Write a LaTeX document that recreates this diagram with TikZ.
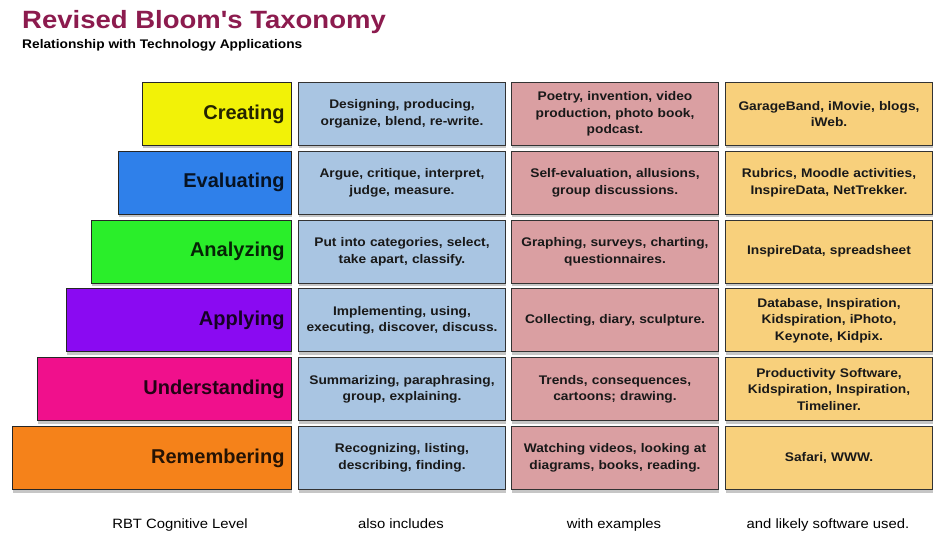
\documentclass[tikz,border=0pt]{standalone}
\usepackage{fontspec}
\setmainfont{Liberation Sans}[FakeStretch=1.1]
\newfontfamily\lvlfont{Liberation Sans}
\newfontfamily\titlefont{Liberation Sans}[FakeStretch=1.1,Ligatures=TeXOff]
\usetikzlibrary{shadows}

\definecolor{titlered}{HTML}{8C1B4E}
\definecolor{lvlyellow}{HTML}{F2F207}
\definecolor{lvlblue}{HTML}{2F80EA}
\definecolor{lvlgreen}{HTML}{2AEE2A}
\definecolor{lvlpurple}{HTML}{8A0AF2}
\definecolor{lvlpink}{HTML}{F0108C}
\definecolor{lvlorange}{HTML}{F5821A}
\definecolor{incblue}{HTML}{A9C5E2}
\definecolor{exrose}{HTML}{DA9FA2}
\definecolor{swyellow}{HTML}{F8D07C}

\begin{document}
\begin{tikzpicture}[x=1pt,y=-1pt,
  lvl/.style={rectangle,draw=black!85,line width=1pt,minimum height=63pt,inner xsep=7pt,align=right,anchor=north east,
    font=\lvlfont\bfseries\fontsize{20}{22}\selectfont,drop shadow={opacity=0.45,shadow xshift=0.5pt,shadow yshift=-3pt}},
  cell/.style={rectangle,draw=black!80,line width=1pt,minimum width=207pt,minimum height=63pt,text width=195pt,inner xsep=6pt,
    align=center,anchor=north west,font=\bfseries\fontsize{12.5}{16.5}\selectfont,text=black!90,
    drop shadow={opacity=0.45,shadow xshift=0.5pt,shadow yshift=-3pt}},
  foot/.style={font=\fontsize{13.5}{15}\selectfont,anchor=base}
]
  \useasboundingbox (0,0) rectangle (944,534);
  \node[anchor=base west,inner sep=0pt,text=titlered,font=\titlefont\bfseries\fontsize{25}{28}\selectfont] (title) at (22,29) {Revised Bloom's Taxonomy};
  \node[anchor=base west,inner sep=0pt,font=\bfseries\fontsize{12.5}{14}\selectfont] (subtitle) at (22,49) {Relationship with Technology Applications};

  % cognitive levels
  \foreach \i/\name/\col/\w [evaluate=\i as \ytop using 82+68.8*\i, evaluate=\w as \tw using \w-14] in
    {0/Creating/lvlyellow/149, 1/Evaluating/lvlblue/173, 2/Analyzing/lvlgreen/200,
     3/Applying/lvlpurple/225, 4/Understanding/lvlpink/254, 5/Remembering/lvlorange/279}{
    \node[lvl,fill=\col,text=\col!15!black,minimum width=\w,text width=\tw pt] (lvl\i) at (292,\ytop) {\name};
  }

  % also includes
  \foreach \i/\t [evaluate=\i as \ytop using 82+68.8*\i] in
    {0/{Designing, producing,\\organize, blend, re-write.},
     1/{Argue, critique, interpret,\\judge, measure.},
     2/{Put into categories, select,\\take apart, classify.},
     3/{Implementing, using,\\executing, discover, discuss.},
     4/{Summarizing, paraphrasing,\\group, explaining.},
     5/{Recognizing, listing,\\describing, finding.}}{
    \node[cell,fill=incblue] (inc\i) at (298,\ytop) {\t};
  }

  % with examples
  \foreach \i/\t [evaluate=\i as \ytop using 82+68.8*\i] in
    {0/{Poetry, invention, video\\production, photo book,\\podcast.},
     1/{Self-evaluation, allusions,\\group discussions.},
     2/{Graphing, surveys, charting,\\questionnaires.},
     3/{Collecting, diary, sculpture.},
     4/{Trends, consequences,\\cartoons; drawing.},
     5/{Watching videos, looking at\\diagrams, books, reading.}}{
    \node[cell,fill=exrose] (ex\i) at (511,\ytop) {\t};
  }

  % likely software
  \foreach \i/\t [evaluate=\i as \ytop using 82+68.8*\i] in
    {0/{GarageBand, iMovie, blogs,\\iWeb.},
     1/{Rubrics, Moodle activities,\\InspireData, NetTrekker.},
     2/{InspireData, spreadsheet},
     3/{Database, Inspiration,\\Kidspiration, iPhoto,\\Keynote, Kidpix.},
     4/{Productivity Software,\\Kidspiration, Inspiration,\\Timeliner.},
     5/{Safari, WWW.}}{
    \node[cell,fill=swyellow] (sw\i) at (725,\ytop) {\t};
  }

  \node[foot] (f0) at (180,528) {RBT Cognitive Level};
  \node[foot] (f1) at (401,528) {also includes};
  \node[foot] (f2) at (614,528) {with examples};
  \node[foot] (f3) at (828,528) {and likely software used.};
\end{tikzpicture}
\end{document}
